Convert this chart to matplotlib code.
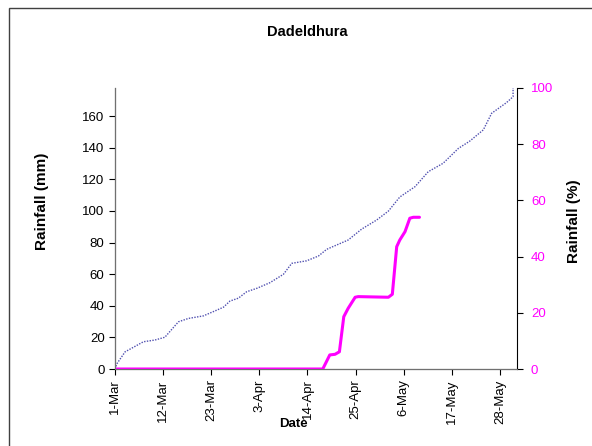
import numpy as np
import pandas as pd
import matplotlib
matplotlib.use('Agg')
import matplotlib.pyplot as plt
from matplotlib.patches import Rectangle

plt.rcParams['font.family'] = ['Liberation Sans', 'DejaVu Sans']

start = pd.Timestamp('2000-03-01')

# cumulative normal rainfall (%)
pct_day = [0, 0.4, 2.3, 6.5, 9.1, 11.4, 14.5, 16.8, 20.2, 22.9, 24.8, 26.3, 28.2,
           30.1, 32.4, 35.4, 38.5, 40.4, 43.8, 46.5, 48.4, 53.3, 56.4, 59.8, 62.5,
           65.1, 68.6, 71.6, 75.0, 78.5, 81.1, 84.2, 86.1, 89.5, 91.0, 91.0]
pct_val = [0, 1.8, 6.1, 9.7, 10.3, 11.3, 16.8, 18.0, 18.9, 20.7, 22.0, 24.2, 25.2,
           27.5, 28.7, 30.7, 33.7, 37.6, 38.5, 40.2, 42.6, 45.9, 49.8, 53.0, 56.2,
           61.2, 64.9, 70.2, 73.2, 78.5, 81.1, 85.1, 91.0, 94.8, 96.9, 100.0]

# cumulative observed rainfall (mm)
mm_day = [0, 47.5, 49.1, 50.3, 51.3, 52.3, 53.3, 54.9, 55.6, 62.5, 63.4, 64.4,
          65.1, 66.3, 67.4, 68.2, 69.6]
mm_val = [0, 0, 8.9, 9.3, 10.9, 33.1, 38.4, 45.4, 45.8, 45.4, 47.3, 77.4,
          81.6, 86.9, 95.4, 96.0, 96.0]

pct_dates = start + pd.to_timedelta(pct_day, unit='D')
mm_dates = start + pd.to_timedelta(mm_day, unit='D')

fig = plt.figure(figsize=(5.92, 4.46), dpi=100)
ax = fig.add_axes([115/592, 1-369/446, (517-115)/592, (369-88)/446])
ax2 = ax.twinx()

ax2.plot(pct_dates, pct_val, color='#5050b0', lw=1.0, ls=(0, (1, 1)))
ax.plot(mm_dates, mm_val, color='#ff00ff', lw=2.2, solid_capstyle='round',
        solid_joinstyle='round')
ax.set_zorder(ax2.get_zorder() + 1)
ax.patch.set_visible(False)

ax.set_xlim(start, start + pd.Timedelta(days=91.9))
ax.set_ylim(0, 177.8)
ax2.set_ylim(0, 100)
ax.set_yticks(range(0, 161, 20))
ax2.set_yticks(range(0, 101, 20))

ticks = [start + pd.Timedelta(days=11*i) for i in range(9)]
ax.set_xticks(ticks)
ax.set_xticklabels([t.strftime('%-d-%b') for t in ticks], rotation=90, fontsize=9.5)
ax.tick_params(axis='y', labelsize=9.5, direction='out', length=4)
ax.tick_params(axis='x', direction='out', length=4)
ax2.tick_params(axis='y', labelsize=9.5, colors='black', labelcolor='#ff00ff',
                direction='out', length=4, pad=6)

for a in (ax, ax2):
    a.spines['top'].set_visible(False)
ax.spines['right'].set_visible(False)
ax.spines['left'].set_color('#707070')
ax.spines['bottom'].set_color('#707070')

ax.set_ylabel('Rainfall (mm)', fontsize=11, fontweight='bold')
ax.yaxis.set_label_coords(-0.163, 0.598)
ax2.set_ylabel('Rainfall (%)', fontsize=11, fontweight='bold')
ax2.yaxis.set_label_coords(1.125, 0.527)
fig.text(293/592, 1-424/446, 'Date', fontsize=9.5, fontweight='bold', ha='center', va='center')
fig.text(307/592, 1-32/446, 'Dadeldhura', fontsize=10.5, fontweight='bold', ha='center', va='center')

fig.patches.append(Rectangle((9/592, -0.1), 1.2, 1.1 - 8/446,
                             transform=fig.transFigure, fill=False, edgecolor='#404040', lw=1.0))

fig.savefig('out.png', dpi=100)
